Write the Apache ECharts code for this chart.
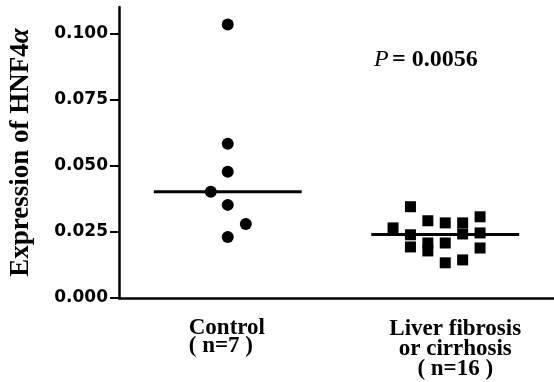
<!DOCTYPE html>
<html><head><meta charset="utf-8">
<script src="https://cdn.jsdelivr.net/npm/echarts@6/dist/echarts.min.js"></script>
<style>html,body{margin:0;padding:0;background:#fff}#c{width:554px;height:382px}</style>
</head><body><div id="c"></div>
<script>
var categories = ['Control', 'Liver fibrosis or cirrhosis'];
var groupSizes = [7, 16];
var yTicks = [0, 0.025, 0.05, 0.075, 0.1];
// Control group (circles): x = 1 + jitter
var controlValues = [0.1034, 0.0583, 0.0477, 0.0402, 0.0352, 0.0280, 0.0231];
var controlJitter = [0, 0, 0, -0.078, 0, 0.083, 0];
// Liver fibrosis / cirrhosis group (squares): x = 2 + jitter
var fibrosisValues = [0.0265, 0.0345, 0.0239, 0.0193, 0.0292, 0.0208, 0.0178, 0.0284, 0.0208, 0.0133, 0.0284, 0.0242, 0.0144, 0.0307, 0.0246, 0.0189];
var fibrosisJitter = [-0.24, -0.16, -0.16, -0.16, -0.08, -0.08, -0.08, 0, 0, 0, 0.08, 0.08, 0.08, 0.16, 0.16, 0.16];
var medians = [0.0402, 0.0240];
var pValueText = '0.0056';

var chart = echarts.init(document.getElementById('c'));
function pts(center, jit, vals){ return vals.map(function(v,i){ return [center + jit[i], v]; }); }
var halfW = 0.34;
var serif = '"Liberation Serif", "Times New Roman", serif';
chart.setOption({
  animation: false,
  grid: { left: 118, right: 0, top: 7, bottom: 84 },
  xAxis: [
    { type: 'category', data: [
        { value: categories[0] + '\n( n=' + groupSizes[0] + ' )' },
        { value: 'Liver fibrosis\nor cirrhosis\n( n=' + groupSizes[1] + ' )' }
      ],
      boundaryGap: true,
      axisLine: { lineStyle: { color: '#000', width: 2.5 } },
      axisTick: { show: false },
      axisLabel: {
        margin: 21, interval: 0,
        formatter: function(v, i){
          var lines = v.split('\n');
          if (i === 0) return lines.map(function(l){ return '{l|' + l + '}'; }).join('\n');
          return lines.map(function(l){ return '{c|' + l + '}'; }).join('\n');
        },
        rich: {
          l: { width: 78, align: 'left', fontFamily: serif, fontWeight: 'bold', fontSize: 23, color: '#000', lineHeight: 18 },
          c: { padding: [0, 0, 0, 20], align: 'center', fontFamily: serif, fontWeight: 'bold', fontSize: 23, color: '#000', lineHeight: 20 }
        }
      }
    },
    { type: 'value', min: 0.5, max: 2.5, show: false }
  ],
  yAxis: {
    type: 'value', min: 0, max: 0.11, interval: 0.025,
    name: 'Expression of HNF4{a|α}',
    nameLocation: 'middle', nameGap: 84,
    nameTextStyle: { fontFamily: serif, fontWeight: 'bold', fontSize: 27, color: '#000',
      rich: { a: { fontFamily: serif, fontStyle: 'italic', fontWeight: 'bold', fontSize: 27, color: '#000' } } },
    splitLine: { show: false },
    axisLine: { show: true, lineStyle: { color: '#000', width: 2.5 } },
    axisTick: { show: true, length: 9, customValues: yTicks, lineStyle: { color: '#000', width: 2 } },
    axisLabel: { margin: 11, customValues: yTicks, color: '#000', fontFamily: '"DejaVu Sans", sans-serif', fontWeight: 'bold', fontSize: 17,
      formatter: function(v){ return v.toFixed(3); } }
  },
  series: [
    { type: 'scatter', xAxisIndex: 1, symbol: 'circle', symbolSize: 12, itemStyle: { color: '#000', opacity: 1 },
      data: pts(1, controlJitter, controlValues) },
    { type: 'scatter', xAxisIndex: 1, symbol: 'rect', symbolSize: 11, itemStyle: { color: '#000', opacity: 1 },
      data: pts(2, fibrosisJitter, fibrosisValues) },
    { type: 'line', xAxisIndex: 1, symbol: 'none', lineStyle: { color: '#000', width: 3 },
      data: [[1 - halfW, medians[0]], [1 + halfW, medians[0]]], z: 1 },
    { type: 'line', xAxisIndex: 1, symbol: 'none', lineStyle: { color: '#000', width: 3 },
      data: [[2 - halfW, medians[1]], [2 + halfW, medians[1]]], z: 1 }
  ],
  graphic: [
    { type: 'text', left: 374, top: 48, style: {
      text: '{p|P} {b|= ' + pValueText + '}',
      rich: {
        p: { fontFamily: serif, fontStyle: 'italic', fontSize: 24, fill: '#000' },
        b: { fontFamily: serif, fontWeight: 'bold', fontSize: 24, fill: '#000' }
      } } }
  ]
});
</script></body></html>
